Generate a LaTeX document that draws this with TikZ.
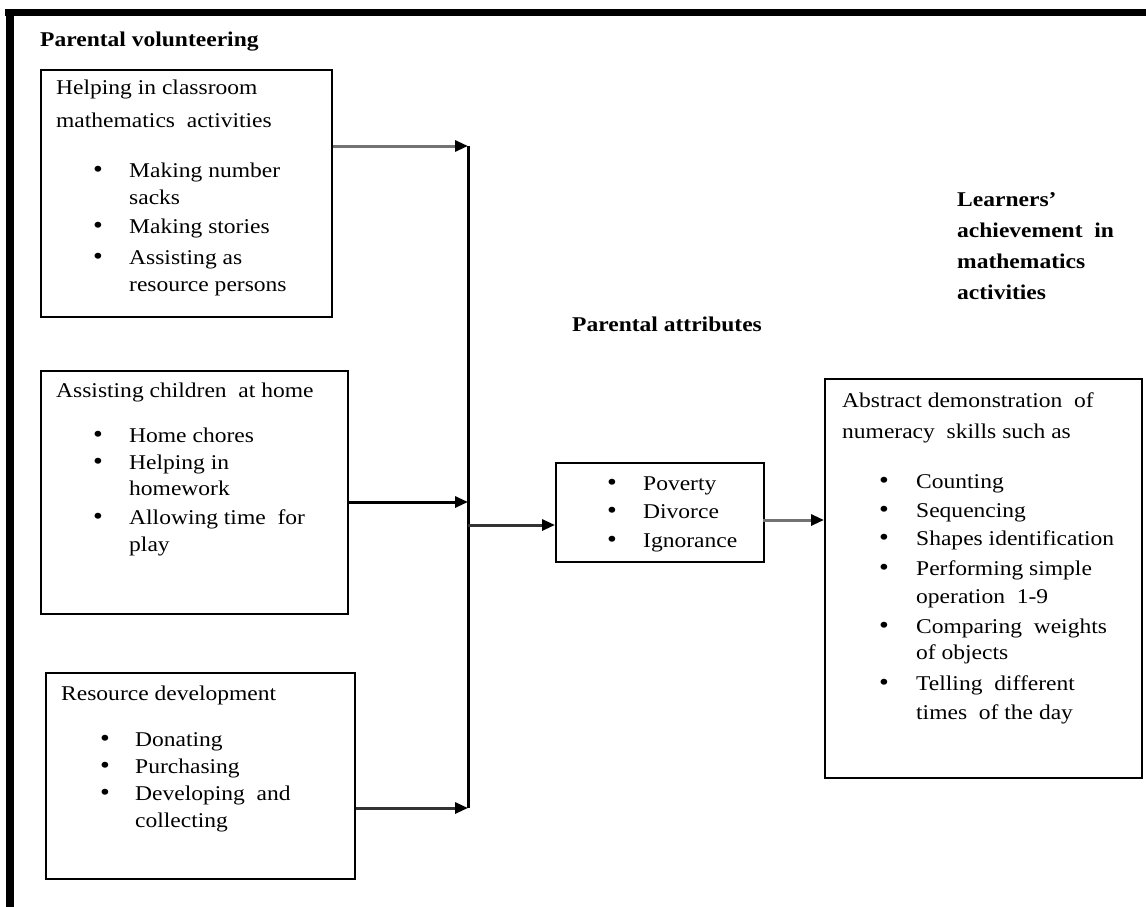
\documentclass[tikz,border=0pt]{standalone}
\usepackage{fontspec}
\setmainfont{Liberation Serif}[FakeStretch=1.12]
\usetikzlibrary{arrows.meta}
\begin{document}
\begin{tikzpicture}[x=1pt,y=-1pt,
  box/.style={draw,line width=2pt,inner sep=0pt,anchor=north west},
  txt/.style={anchor=base west,inner sep=0pt,font=\fontsize{21}{24}\selectfont},
  ttl/.style={anchor=base west,inner sep=0pt,font=\fontsize{21}{24}\selectfont\bfseries},
  bul/.style={anchor=base west,inner sep=0pt,font=\fontsize{25}{24}\selectfont},
  conn/.style={line width=3pt,-{Triangle[length=13pt,width=11pt,fill=black,color=black]}},
  gconn/.style={conn,draw=black!55},
  dconn/.style={conn,draw=black!80}]
\useasboundingbox (0,0) rectangle (1146,907);
% frame
\fill (5,9) rectangle (1146,16);
\fill (6,9) rectangle (14,907);

% titles
\node[ttl] (tvol) at (40,47) {Parental volunteering};
\node[ttl] (tatt) at (572,331) {Parental attributes};
\node[ttl] (tl1) at (957,206) {Learners'};
\node[ttl] (tl2) at (957,237) {achievement\ \ in};
\node[ttl] (tl3) at (957,268) {mathematics};
\node[ttl] (tl4) at (957,299) {activities};

% boxes
\node[box,minimum width=291pt,minimum height=247pt] (b1) at (40,69) {};
\node[box,minimum width=307pt,minimum height=243pt] (b2) at (40,370) {};
\node[box,minimum width=309pt,minimum height=206pt] (b3) at (45,672) {};
\node[box,minimum width=208pt,minimum height=99pt] (bp) at (555,462) {};
\node[box,minimum width=317pt,minimum height=399pt] (ba) at (824,378) {};

% box 1 text
\node[txt] (b1h1) at (56,95) {Helping in classroom};
\node[txt] (b1h2) at (56,127) {mathematics\ \ activities};
\node[bul] (b1u1) at (93,177) {\textbullet};
\node[txt] (b1i1) at (129,177) {Making number};
\node[txt] (b1i1b) at (129,204) {sacks};
\node[bul] (b1u2) at (93,233) {\textbullet};
\node[txt] (b1i2) at (129,233) {Making stories};
\node[bul] (b1u3) at (93,264) {\textbullet};
\node[txt] (b1i3) at (129,264) {Assisting as};
\node[txt] (b1i3b) at (129,291) {resource persons};

% box 2 text
\node[txt] (b2h) at (56,397) {Assisting children\ \ at home};
\node[bul] (b2u1) at (93,442) {\textbullet};
\node[txt] (b2i1) at (129,442) {Home chores};
\node[bul] (b2u2) at (93,469) {\textbullet};
\node[txt] (b2i2) at (129,469) {Helping in};
\node[txt] (b2i2b) at (129,495) {homework};
\node[bul] (b2u3) at (93,524) {\textbullet};
\node[txt] (b2i3) at (129,524) {Allowing time\ \ for};
\node[txt] (b2i3b) at (129,551) {play};

% box 3 text
\node[txt] (b3h) at (61,700) {Resource development};
\node[bul] (b3u1) at (100,746) {\textbullet};
\node[txt] (b3i1) at (135,746) {Donating};
\node[bul] (b3u2) at (100,773) {\textbullet};
\node[txt] (b3i2) at (135,773) {Purchasing};
\node[bul] (b3u3) at (100,800) {\textbullet};
\node[txt] (b3i3) at (135,800) {Developing\ \ and};
\node[txt] (b3i3b) at (135,827) {collecting};

% attributes text
\node[bul] (bpu1) at (607,490) {\textbullet};
\node[txt] (bpi1) at (643,490) {Poverty};
\node[bul] (bpu2) at (607,518) {\textbullet};
\node[txt] (bpi2) at (643,518) {Divorce};
\node[bul] (bpu3) at (607,547) {\textbullet};
\node[txt] (bpi3) at (643,547) {Ignorance};

% achievement box text
\node[txt] (bah1) at (842,407) {Abstract demonstration\ \ of};
\node[txt] (bah2) at (842,438) {numeracy\ \ skills such as};
\node[bul] (bau1) at (879,488) {\textbullet};
\node[txt] (bai1) at (916,488) {Counting};
\node[bul] (bau2) at (879,517) {\textbullet};
\node[txt] (bai2) at (916,517) {Sequencing};
\node[bul] (bau3) at (879,545) {\textbullet};
\node[txt] (bai3) at (916,545) {Shapes identification};
\node[bul] (bau4) at (879,575) {\textbullet};
\node[txt] (bai4) at (916,575) {Performing simple};
\node[txt] (bai4b) at (916,603) {operation\ \ 1-9};
\node[bul] (bau5) at (879,633) {\textbullet};
\node[txt] (bai5) at (916,633) {Comparing\ \ weights};
\node[txt] (bai5b) at (916,659) {of objects};
\node[bul] (bau6) at (879,690) {\textbullet};
\node[txt] (bai6) at (916,690) {Telling\ \ different};
\node[txt] (bai6b) at (916,719) {times\ \ of the day};

% bus coordinates
\coordinate (j1) at (468,146);
\coordinate (j2) at (468,502);
\coordinate (j3) at (468,808);
\coordinate (jp) at (468,525);
\coordinate (ja) at (763,520);

\draw[line width=3pt] (j1) -- (j3);
\draw[gconn] (b1.east |- j1) -- (j1);
\draw[conn] (b2.east |- j2) -- (j2);
\draw[dconn] (b3.east |- j3) -- (j3);
\draw[dconn] (jp) -- (bp.west |- jp);
\draw[gconn] (ja) -- (ba.west |- ja);
\end{tikzpicture}
\end{document}
